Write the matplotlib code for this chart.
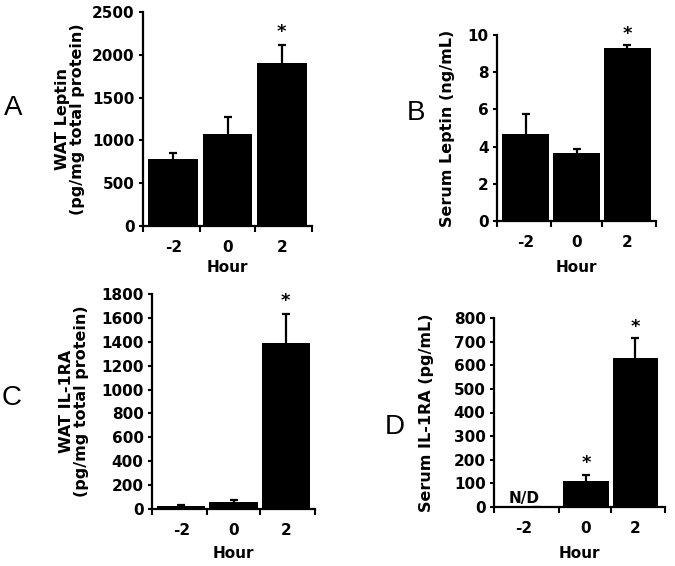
import matplotlib
matplotlib.use("Agg")
import matplotlib.pyplot as plt
import numpy as np

W, H = 675, 566

hours = ["-2", "0", "2"]

wat_leptin = [780, 1075, 1900]
wat_leptin_err = [70, 200, 220]
wat_leptin_sig = [False, False, True]

serum_leptin = [4.7, 3.65, 9.3]
serum_leptin_err = [1.05, 0.22, 0.15]
serum_leptin_sig = [False, False, True]

wat_il1ra = [22, 60, 1390]
wat_il1ra_err = [8, 18, 240]
wat_il1ra_sig = [False, False, True]

serum_il1ra = [0, 112, 632]
serum_il1ra_err = [0, 25, 82]
serum_il1ra_sig = [False, True, True]

plt.rcParams["font.family"] = "DejaVu Sans"
plt.rcParams["font.weight"] = "bold"

fig = plt.figure(figsize=(W / 100, H / 100), dpi=100)


def px_axes(left, right, top, bottom):
    return fig.add_axes([left / W, 1 - bottom / H, (right - left) / W, (bottom - top) / H])


def panel(box, vals, errs, sig, ymax, ystep, ylabel, ylab_x, letter, letter_xy,
          hour_y, xlim=(-0.56, 2.56), ticks=(0, 1, 2), bounds=(0.5, 1.5)):
    ax = px_axes(*box)
    x = np.arange(len(hours))
    ax.bar(x, vals, width=0.92, color="black", zorder=2)
    eb = ax.errorbar(x, np.array(vals), yerr=[np.zeros(3), errs], fmt="none",
                     ecolor="black", elinewidth=1.6, capsize=3, capthick=1.6, zorder=3)
    eb[1][0].set_visible(False)  # no cap at the bar top
    for xi, v, e, s in zip(x, vals, errs, sig):
        if s:
            ax.text(xi, v + e + ymax * 0.06, "*", ha="center", va="center",
                    fontsize=13, fontweight="bold")
    ax.set_xlim(*xlim)
    ax.set_ylim(0, ymax)
    ax.set_yticks(np.arange(0, ymax + ystep / 2, ystep))
    ax.set_xticks(list(ticks))
    ax.set_xticklabels(hours)
    ax.set_xticks([xlim[0], bounds[0], bounds[1], xlim[1]], minor=True)
    ax.tick_params(axis="x", which="major", length=0, pad=10, labelsize=11)
    ax.tick_params(axis="x", which="minor", length=4, width=1.5, direction="out")
    ax.tick_params(axis="y", length=3, width=1.5, pad=3, labelsize=11)
    for lab in ax.get_xticklabels() + ax.get_yticklabels():
        lab.set_fontweight("bold")
    for s in ["top", "right"]:
        ax.spines[s].set_visible(False)
    for s in ["left", "bottom"]:
        ax.spines[s].set_linewidth(1.6)
    ymid = (box[2] + box[3]) / 2
    fig.text(ylab_x / W, 1 - ymid / H, ylabel, rotation=90, ha="center", va="center",
             fontsize=11.5, fontweight="bold", linespacing=1.05)
    fig.text(letter_xy[0] / W, 1 - letter_xy[1] / H, letter, ha="center", va="center",
             fontsize=20, fontweight="normal", family="Liberation Sans")
    fig.text((box[0] + box[1]) / 2 / W, 1 - hour_y / H, "Hour", ha="center", va="center",
             fontsize=11, fontweight="bold")
    return ax


panel((143, 312, 12, 226), wat_leptin, wat_leptin_err, wat_leptin_sig, 2500, 500,
      "WAT Leptin\n(pg/mg total protein)", 70, "A", (13, 108), 267)

panel((497, 656, 35, 221), serum_leptin, serum_leptin_err, serum_leptin_sig, 10, 2,
      "Serum Leptin (ng/mL)", 447, "B", (416, 113), 267)

panel((152, 315, 294, 509), wat_il1ra, wat_il1ra_err, wat_il1ra_sig, 1800, 200,
      "WAT IL-1RA\n(pg/mg total protein)", 74, "C", (12, 398), 553)

axd = panel((494, 665, 318, 507), serum_il1ra, serum_il1ra_err, serum_il1ra_sig, 800, 100,
            "Serum IL-1RA (pg/mL)", 427, "D", (395, 427), 554,
            xlim=(-0.86, 2.6), ticks=(-0.25, 1, 2), bounds=(0.45, 1.5))
axd.text(-0.25, 38, "N/D", ha="center", va="center", fontsize=11, fontweight="bold")

fig.savefig("out.png", dpi=100)
